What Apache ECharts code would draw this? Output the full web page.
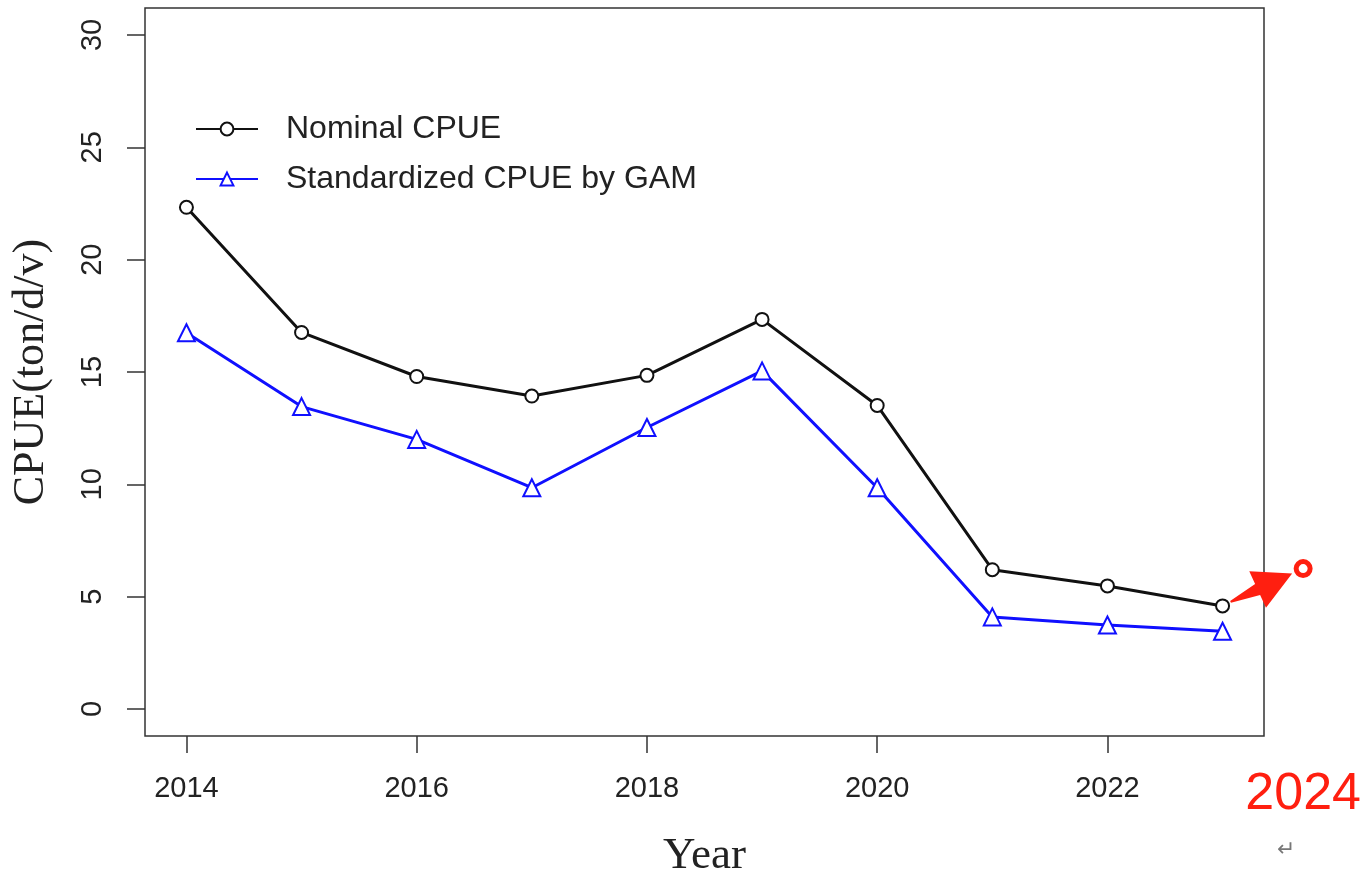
<!DOCTYPE html>
<html>
<head>
<meta charset="utf-8">
<script src="https://cdn.jsdelivr.net/npm/echarts@6/dist/echarts.min.js"></script>
<style>
html, body { margin: 0; padding: 0; background: #fff; }
#main { width: 1370px; height: 889px; }
</style>
</head>
<body>
<div id="main"></div>
<script>
// data
const years = [2014, 2015, 2016, 2017, 2018, 2019, 2020, 2021, 2022, 2023]
const nominal = [22.33, 16.76, 14.80, 13.93, 14.85, 17.34, 13.51, 6.20, 5.48, 4.59]
const standardized = [16.75, 13.46, 12.0, 9.85, 12.53, 15.05, 9.85, 4.1, 3.74, 3.46]
const xTicks = [2014, 2016, 2018, 2020, 2022]
const yTicks = [0, 5, 10, 15, 20, 25, 30]
// hand-drawn annotation: arrow from last nominal point to the 2024 point
const forecast = [2023.7, 6.25]
const forecastLabel = '2024'

const main = document.getElementById('main')
const myChart = echarts.init(main)

const axisColor = '#333'

let option = {
    animation: false,
    backgroundColor: '#fff',
    grid: {
        left: 145,
        top: 8,
        right: 106,
        bottom: 153,
        show: true,
        borderColor: axisColor,
        borderWidth: 1.5
    },
    legend: {
        orient: 'vertical',
        left: 190,
        top: 106,
        itemWidth: 62,
        itemHeight: 16,
        itemGap: 14,
        textStyle: {
            fontFamily: 'Liberation Sans',
            fontSize: 32,
            color: '#222',
            lineHeight: 36,
            padding: [0, 0, 0, 23]
        },
        data: ['Nominal CPUE', 'Standardized CPUE by GAM']
    },
    xAxis: {
        type: 'value',
        min: 2013.64,
        max: 2023.36,
        name: 'Year',
        nameLocation: 'middle',
        nameGap: 98,
        nameTextStyle: { fontFamily: 'Liberation Serif', fontSize: 45, color: '#222' },
        splitLine: { show: false },
        axisLine: { show: false, onZero: false },
        axisTick: { show: true, length: 17, lineStyle: { color: axisColor, width: 1.5 }, customValues: xTicks },
        axisLabel: {
            customValues: xTicks,
            formatter: v => String(v),
            margin: 38,
            fontFamily: 'Liberation Sans',
            fontSize: 29,
            color: '#222'
        }
    },
    yAxis: {
        type: 'value',
        min: -1.2,
        max: 31.2,
        name: 'CPUE(ton/d/v)',
        nameLocation: 'middle',
        nameGap: 92,
        nameTextStyle: { fontFamily: 'Liberation Serif', fontSize: 44, color: '#222' },
        splitLine: { show: false },
        axisLine: { show: false, onZero: false },
        axisTick: { show: true, length: 18, lineStyle: { color: axisColor, width: 1.5 }, customValues: yTicks },
        axisLabel: {
            customValues: yTicks,
            formatter: v => String(v),
            rotate: 90,
            margin: 38,
            fontFamily: 'Liberation Sans',
            fontSize: 29,
            color: '#222'
        }
    },
    series: [
        {
            name: 'Nominal CPUE',
            type: 'line',
            data: years.map((y, i) => [y, nominal[i]]),
            symbol: 'emptyCircle',
            symbolSize: 13,
            color: '#111',
            lineStyle: { color: '#111', width: 3 },
            itemStyle: { color: '#111', borderWidth: 3.5 },
            z: 3
        },
        {
            name: 'Standardized CPUE by GAM',
            type: 'line',
            data: years.map((y, i) => [y, standardized[i]]),
            symbol: 'emptyTriangle',
            symbolSize: 17,
            color: '#1010ff',
            lineStyle: { color: '#1010ff', width: 3 },
            itemStyle: { color: '#1010ff', borderWidth: 3.5 },
            z: 3
        }
    ]
}

myChart.setOption(option)

// annotation built from data positions
function arrowShape(p0, p1) {
    const dx = p1[0] - p0[0], dy = p1[1] - p0[1]
    const len = Math.sqrt(dx * dx + dy * dy)
    const ux = dx / len, uy = dy / len
    const nx = -uy, ny = ux
    const headLen = 38, headHalf = 20
    const bx = p1[0] - ux * headLen, by = p1[1] - uy * headLen
    return [
        [p0[0] + nx * 1, p0[1] + ny * 1],
        [bx + nx * 6, by + ny * 6],
        [bx + nx * headHalf, by + ny * headHalf],
        p1,
        [bx - nx * headHalf, by - ny * headHalf],
        [bx - nx * 6, by - ny * 6],
        [p0[0] - nx * 1, p0[1] - ny * 1]
    ]
}

const last = myChart.convertToPixel({ gridIndex: 0 }, [years[years.length - 1], nominal[nominal.length - 1]])
const fc = myChart.convertToPixel({ gridIndex: 0 }, forecast)
const tail = [last[0] + 8, last[1] - 4]
const tip = [fc[0] - 11, fc[1] + 5]

myChart.setOption({
    graphic: [
        {
            type: 'polygon',
            shape: { points: arrowShape(tail, tip) },
            style: { fill: '#ff1f10' },
            z: 10
        },
        {
            type: 'circle',
            shape: { cx: fc[0], cy: fc[1], r: 7 },
            style: { fill: '#fff', stroke: '#ff1f10', lineWidth: 5 },
            z: 10
        },
        {
            type: 'text',
            x: fc[0],
            y: 795,
            style: {
                text: forecastLabel,
                fill: '#ff1f10',
                font: '52px "Liberation Sans"',
                align: 'center',
                verticalAlign: 'middle'
            },
            z: 10
        },
        {
            type: 'text',
            x: 1286,
            y: 850,
            style: {
                text: '↵',
                fill: '#777',
                font: '22px "DejaVu Sans"',
                align: 'center',
                verticalAlign: 'middle'
            }
        }
    ]
})
</script>
</body>
</html>
